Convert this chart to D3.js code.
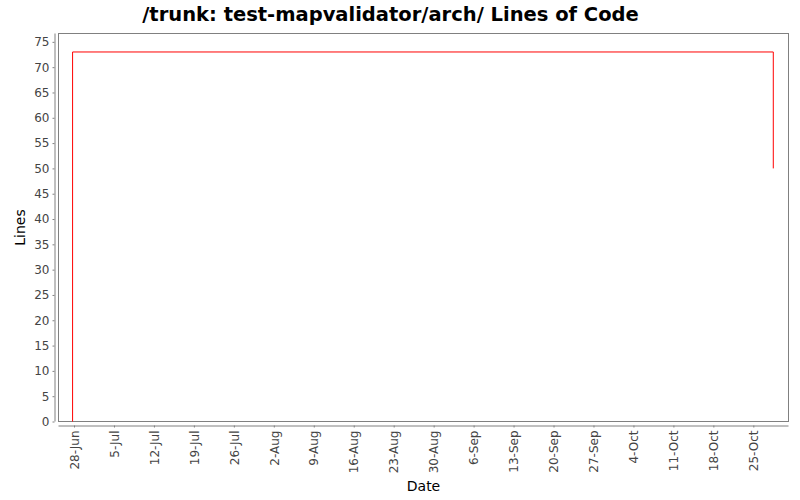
<!DOCTYPE html>
<html>
<head>
<meta charset="utf-8">
<script src="https://cdn.jsdelivr.net/npm/d3@7"></script>
<style>
  body { margin: 0; background: #fff; }
  text { font-family: "DejaVu Sans", sans-serif; }
</style>
</head>
<body>
<div id="chart"></div>
<script>
var width = 800, height = 500;

// data: lines of code over time (step chart)
var dates = ["2009-06-27T18:00", "2009-06-27T18:00", "2009-10-28T12:00"];
var lines = [0, 73, 50];
var yTicks = [0, 5, 10, 15, 20, 25, 30, 35, 40, 45, 50, 55, 60, 65, 70, 75];
var title = "/trunk: test-mapvalidator/arch/ Lines of Code";

var parse = d3.timeParse("%Y-%m-%dT%H:%M");
var points = dates.map(function(d, i) { return { date: parse(d), value: lines[i] }; });

var plot = { left: 58.5, right: 788.5, top: 33.5, bottom: 421.5 };

var svg = d3.select("#chart").append("svg")
  .attr("width", width)
  .attr("height", height);

svg.append("rect").attr("width", width).attr("height", height).attr("fill", "#fff");

var ext = d3.extent(points, function(d) { return d.date; });
var span = ext[1] - ext[0];
var xScale = d3.scaleTime()
  .domain([new Date(+ext[0] - span * 0.0201), new Date(+ext[1] + span * 0.0217)])
  .range([plot.left, plot.right]);

var yScale = d3.scaleLinear()
  .domain([0, d3.max(lines) * 1.05])
  .range([plot.bottom, plot.top]);

// title
svg.append("text")
  .text(title)
  .attr("x", 390.5)
  .attr("y", 21)
  .attr("text-anchor", "middle")
  .attr("font-size", "19.5px")
  .attr("font-weight", "bold")
  .attr("fill", "#000");

// plot frame
svg.append("rect")
  .attr("x", plot.left)
  .attr("y", plot.top)
  .attr("width", plot.right - plot.left)
  .attr("height", plot.bottom - plot.top)
  .attr("fill", "#fff")
  .attr("stroke", "#808080")
  .attr("stroke-width", 1);

// y axis
var yAxis = d3.axisLeft(yScale)
  .tickValues(yTicks)
  .tickSize(2)
  .tickPadding(3);

var yg = svg.append("g")
  .attr("transform", "translate(" + (plot.left - 4) + ",0)")
  .call(yAxis);
yg.select(".domain").attr("d", "M0.5," + plot.top + "V" + plot.bottom).attr("stroke", "#808080");
yg.selectAll(".tick line").attr("stroke", "#808080");
yg.selectAll("text")
  .attr("font-size", "12px")
  .attr("fill", "#444")
  .attr("font-family", "DejaVu Sans, sans-serif");

// x axis
var xAxis = d3.axisBottom(xScale)
  .ticks(d3.timeWeek.every(1))
  .tickFormat(d3.timeFormat("%-d-%b"))
  .tickSize(2);

var xg = svg.append("g")
  .attr("transform", "translate(0," + (plot.bottom + 4) + ")")
  .call(xAxis);
xg.select(".domain").attr("d", "M" + plot.left + ",0.5H" + plot.right).attr("stroke", "#808080");
xg.selectAll(".tick line").attr("stroke", "#808080");
xg.selectAll("text")
  .attr("font-size", "12px")
  .attr("fill", "#444")
  .attr("font-family", "DejaVu Sans, sans-serif")
  .attr("text-anchor", "end")
  .attr("transform", "rotate(-90)")
  .attr("x", -5)
  .attr("y", 0)
  .attr("dy", "0.35em");

// axis labels
svg.append("text")
  .text("Lines")
  .attr("transform", "translate(25," + ((plot.top + plot.bottom) / 2) + ") rotate(-90)")
  .attr("text-anchor", "middle")
  .attr("font-size", "14px")
  .attr("fill", "#000");

svg.append("text")
  .text("Date")
  .attr("x", (plot.left + plot.right) / 2)
  .attr("y", 491)
  .attr("text-anchor", "middle")
  .attr("font-size", "14px")
  .attr("fill", "#000");

// the line
var line = d3.line()
  .x(function(d) { return xScale(d.date); })
  .y(function(d) { return yScale(d.value); })
  .curve(d3.curveStepAfter);

svg.append("path")
  .datum(points)
  .attr("d", line)
  .attr("fill", "none")
  .attr("stroke", "#ff0000")
  .attr("stroke-width", 1);
</script>
</body>
</html>
